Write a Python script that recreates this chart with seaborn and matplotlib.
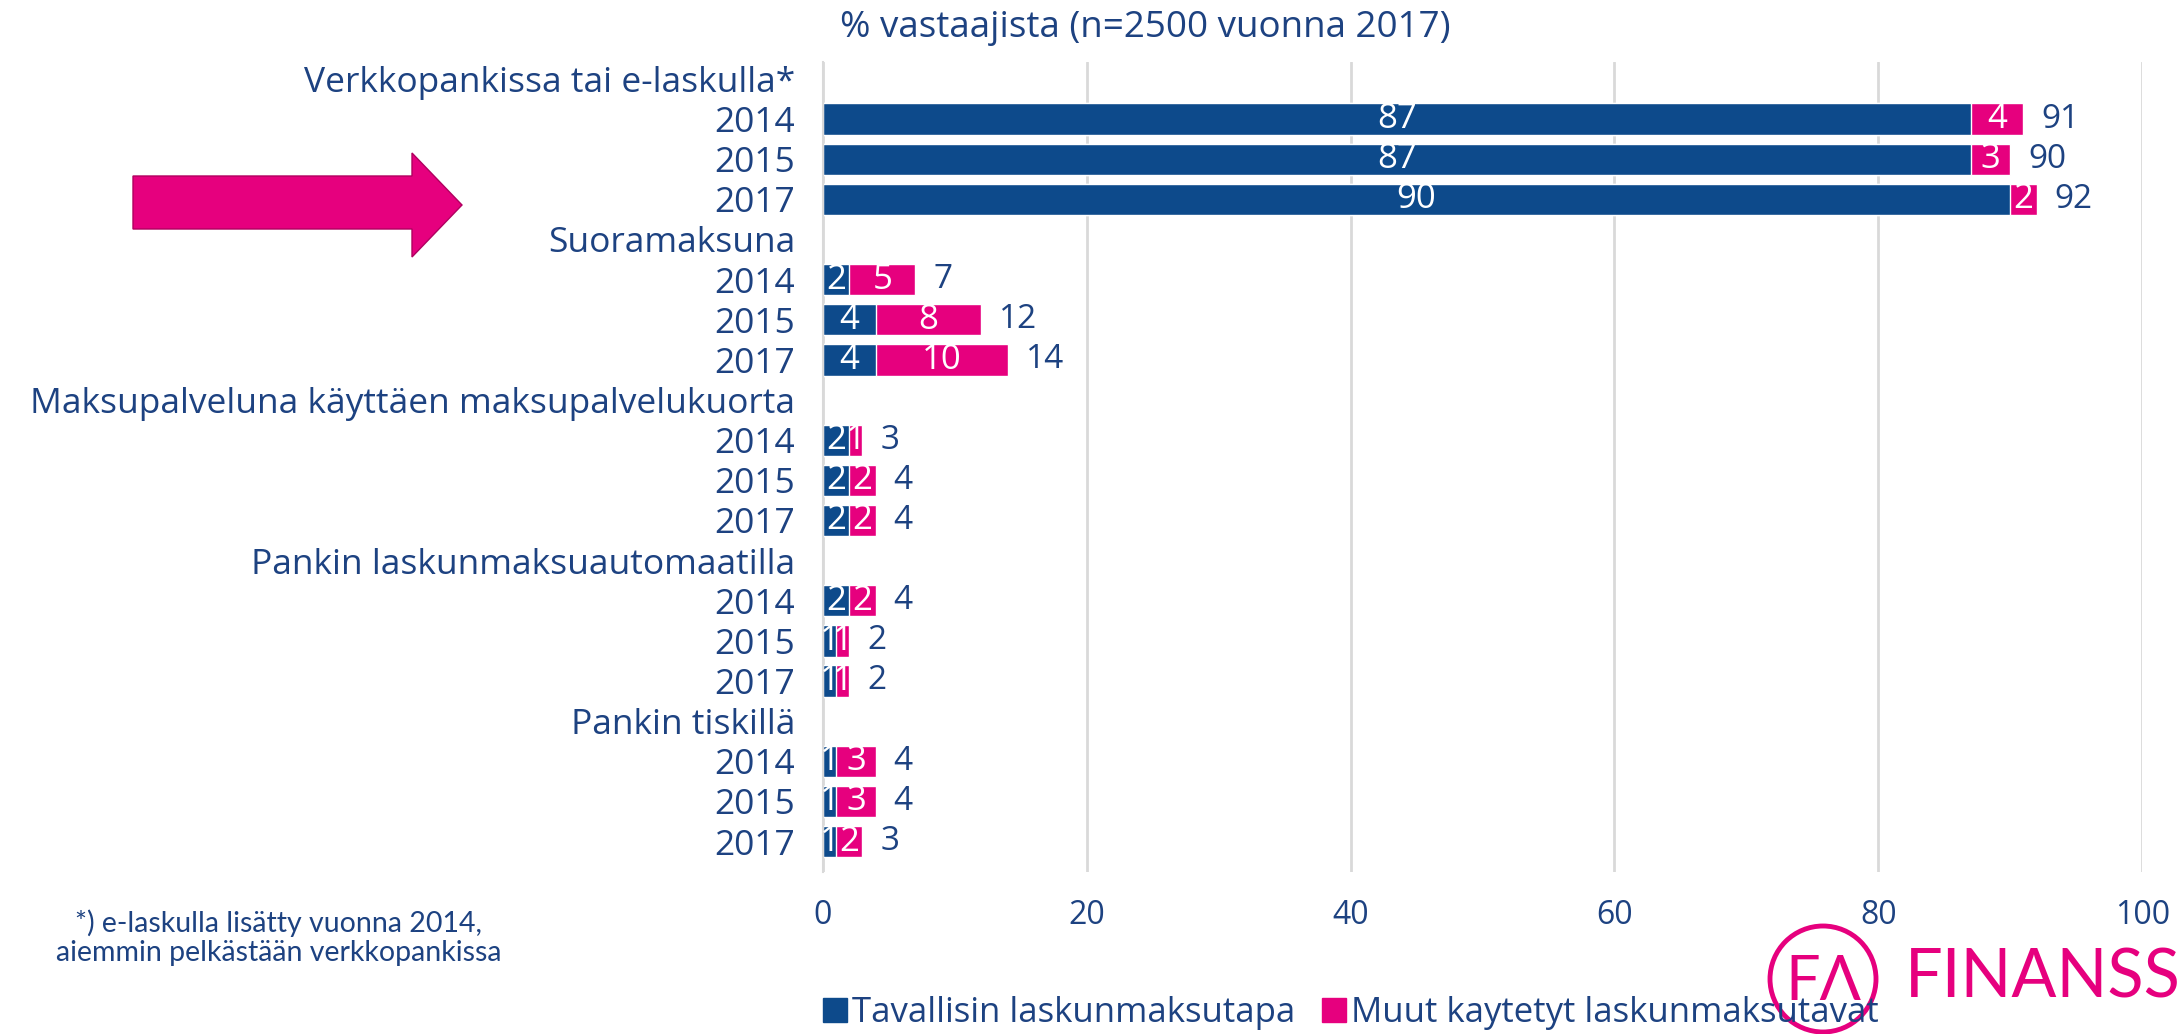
"""Laskunmaksutavat 2014-2017, stacked horizontal bars"""
import seaborn as sns
import matplotlib.pyplot as plt
import pandas as pd
from matplotlib.patches import Polygon, Ellipse
from matplotlib.lines import Line2D

NAVY = "#0d4a8b"
PINK = "#e6007e"
TEXT = "#1d4281"

groups = ["Verkkopankissa tai e-laskulla*", "Suoramaksuna",
          "Maksupalveluna käyttäen maksupalvelukuorta",
          "Pankin laskunmaksuautomaatilla", "Pankin tiskillä"]
years = ["2014", "2015", "2017"]
tavallisin = [87, 87, 90, 2, 4, 4, 2, 2, 2, 2, 1, 1, 1, 1, 1]
muut = [4, 3, 2, 5, 8, 10, 1, 2, 2, 2, 1, 1, 3, 3, 2]
totals = [91, 90, 92, 7, 12, 14, 3, 4, 4, 4, 2, 2, 4, 4, 3]
series_names = ["Tavallisin laskunmaksutapa", "Muut kaytetyt laskunmaksutavat"]

# build row order: header row followed by three year rows per group
order, row_labels, rows = [], [], []
for g, name in enumerate(groups):
    order.append(f"h{g}")
    row_labels.append(name)
    for y, yr in enumerate(years):
        rid = f"r{g}_{yr}"
        order.append(rid)
        row_labels.append(yr)
        i = g * 3 + y
        rows.append({"row": rid, "tavallisin": tavallisin[i], "muut": muut[i],
                     "total": totals[i]})
df = pd.DataFrame(rows)

sns.set_theme(style="white")
plt.rcParams["font.family"] = ["Open Sans", "DejaVu Sans"]

fig = plt.figure(figsize=(21.77, 10.34), dpi=100)
ax = fig.add_axes([0.378, 0.157, 0.606, 0.783])

sns.barplot(data=df, y="row", x="total", order=order, orient="y", color=PINK,
            width=0.78, saturation=1, ax=ax)
sns.barplot(data=df, y="row", x="tavallisin", order=order, orient="y", color=NAVY,
            width=0.78, saturation=1, ax=ax)

pos = {r: i for i, r in enumerate(order)}
for _, r in df.iterrows():
    yv = pos[r["row"]]
    ax.text(r["tavallisin"] / 2, yv, str(r["tavallisin"]), color="white",
            ha="center", va="center", fontsize=25)
    ax.text(r["tavallisin"] + r["muut"] / 2, yv, str(r["muut"]), color="white",
            ha="center", va="center", fontsize=25)
    ax.annotate(str(r["total"]), (r["total"], yv), xytext=(13, 0),
                textcoords="offset points", color=TEXT, ha="left", va="center",
                fontsize=24)

ax.set_xlim(0, 100)
ax.set_ylim(len(order) - 0.25, -0.42)
ax.set_xticks([0, 20, 40, 60, 80, 100])
ax.set_yticks(range(len(order)))
ax.set_yticklabels(row_labels)
ax.tick_params(axis="both", colors=TEXT, labelsize=25.5, length=0)
ax.tick_params(axis="x", pad=20, labelsize=23)
ax.tick_params(axis="y", pad=20)
ax.set_xlabel("")
ax.set_ylabel("")
ax.xaxis.grid(True, color="#d9d9d9", linewidth=2)
ax.set_axisbelow(True)
for s in ["top", "right", "bottom"]:
    ax.spines[s].set_visible(False)
ax.spines["left"].set_color("#d9d9d9")
ax.spines["left"].set_linewidth(1.5)

fig.text(0.526, 0.973, "% vastaajista (n=2500 vuonna 2017)", color=TEXT,
         ha="center", va="center", fontsize=26.5)

# pink arrow on the left
W, H = 2177, 1034
pts = [(133, 176), (412, 176), (412, 153), (462, 205), (412, 257), (412, 229), (133, 229)]
fig.patches.append(Polygon([(x / W, 1 - y / H) for x, y in pts], closed=True,
                           transform=fig.transFigure, facecolor=PINK,
                           edgecolor="#b0005f", linewidth=1))

fig.text(0.128, 0.093, "*) e-laskulla lisätty vuonna 2014,\naiemmin pelkästään verkkopankissa",
         color=TEXT, ha="center", va="center", fontsize=20.5, linespacing=1.15,
         family=["Lato", "DejaVu Sans"])

handles = [Line2D([], [], marker="s", linestyle="", markersize=17, color=c)
           for c in [NAVY, PINK]]
fig.legend(handles, series_names, loc="center", bbox_to_anchor=(0.62, 0.02),
           ncol=2, frameon=False, fontsize=25, labelcolor=TEXT,
           handletextpad=0.1, columnspacing=0.7, handlelength=0.8)

# logo
fig.patches.append(Ellipse((1823 / W, 1 - 979 / H), 106 / W, 106 / H,
                           transform=fig.transFigure, facecolor="none",
                           edgecolor=PINK, linewidth=3.5))
fig.text(1823 / W, 1 - 982 / H, "FΛ", color=PINK, ha="center", va="center",
         fontsize=44, family=["Lato", "DejaVu Sans"])
fig.text(1905 / W, 1 - 997 / H, "FINANSSI", color=PINK, ha="left", va="baseline",
         fontsize=48, family=["Lato", "DejaVu Sans"])

plt.savefig("out.png")
